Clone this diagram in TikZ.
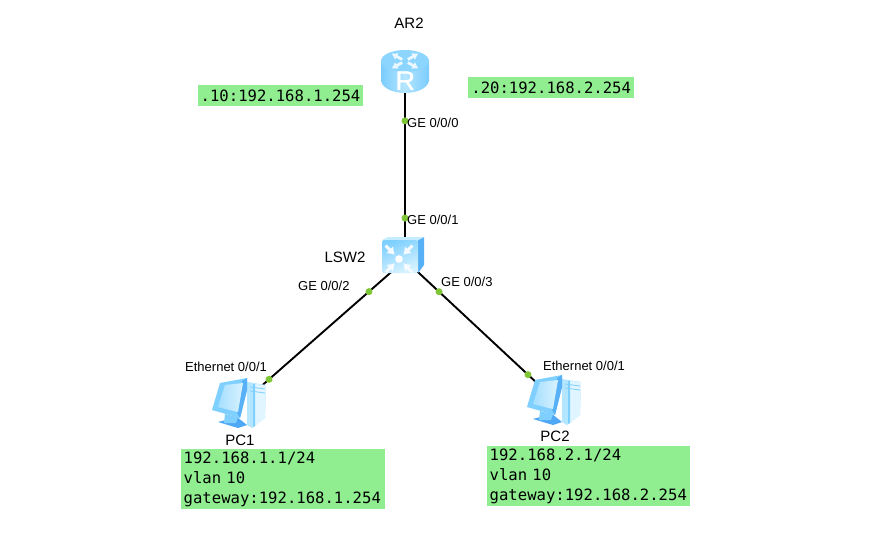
\documentclass[tikz,border=0pt]{standalone}
\usepackage{fontspec}
\setmainfont{Liberation Sans}
\newfontfamily\monof{DejaVu Sans Mono}
\usetikzlibrary{arrows.meta}
\definecolor{boxg}{HTML}{90EE90}
\definecolor{dotg}{HTML}{7FC636}
\definecolor{icA}{HTML}{7FD0FF}
\definecolor{icB}{HTML}{B5E6FF}
\definecolor{icC}{HTML}{D8F3FF}
\definecolor{icD}{HTML}{4FA8F5}
\tikzset{
  x=1pt,y=-1pt,
  lbl/.style={font=\fontsize{13}{15}\selectfont,text=black,inner sep=0pt},
  name lbl/.style={font=\fontsize{15}{17}\selectfont,text=black,inner sep=0pt},
  ipbox/.style={fill=boxg,anchor=north west,inner xsep=2.5pt,inner ysep=0pt,align=left,
    font=\monof\fontsize{15.6}{20}\selectfont,text=black},
  link/.style={draw=black,line width=1.9pt},
  pdot/.style={circle,fill=dotg,inner sep=0pt,minimum size=7pt},
  anchorpt/.style={inner sep=0pt,minimum size=0pt},
  pics/routericon/.style={code={
    \shade[left color=icA!90!icD,right color=icA!90!icD,middle color=icB] (-24,-11) -- (-24,9) .. controls (-20,25) and (20,25) .. (24,9) -- (24,-11) -- cycle;
    \fill[icA!90!white] (0,-11) ellipse[x radius=24,y radius=11];
    \foreach \a in {45,135,225,315}{
      \begin{scope}[shift={(0,-11)},yscale=.55,rotate=\a]
        \draw[white!85!icA,line width=2.8pt,-{Latex[length=6pt,width=8pt]}] (4,0) -- (19,0);
      \end{scope}}
    \node[font=\fontsize{27}{27}\selectfont,text=white,inner sep=0pt] (-rA) at (0,9) {R};
    \node[font=\fontsize{27}{27}\selectfont,text=white,inner sep=0pt] (-rB) at (.5,9) {R};
  }},
  pics/switchicon/.style={code={
    \fill[icD!80!icA] (15,-15) -- (21,-18) -- (21,10) -- (15,18) -- cycle;
    \fill[icC!80!icA] (-21,-15) -- (-15,-18) -- (21,-18) -- (15,-15) -- cycle;
    \shade[left color=icA,right color=icC,shading angle=20,rounded corners=1.5pt] (-21,-15) rectangle (15,18);
    \foreach \a in {45,135,225,315}{
      \begin{scope}[shift={(-4,4)},rotate=\a]
        \draw[white!92!icA,line width=3pt,-{Latex[length=7pt,width=10pt]}] (19,0) -- (6,0);
      \end{scope}}
    \fill[white] (-4,4) circle[radius=3.8];
  }},
  pics/pcicon/.style={code={
    % tower
    \fill[icB] (8,-21) -- (27,-18) -- (26,15) -- (13,25) -- (8,22) -- cycle;
    \fill[icC!80!white] (16,-19) -- (27,-18) -- (26,15) -- (16,23) -- cycle;
    \fill[icA] (14,-19) -- (16,-19) -- (16,23) -- (14,24) -- cycle;
    \draw[icA,line width=.8pt] (11,-16) -- (26,-14) (11,-12) -- (26,-10);
    % stand and base
    \fill[icD] (-21,19) -- (-2,14) -- (8,22) -- (-1,25) -- cycle;
    \fill[icA] (-14,11) -- (-1,14) -- (-3,20) -- (-15,20) -- cycle;
    % monitor
    \fill[icA] (8,-25) -- (-19,-20) -- (-27,7) -- (1,15) -- (8,-13) -- cycle;
    \fill[icD!80!icA] (8,-25) -- (3,-22) -- (-2,10) -- (1,15) -- (8,-13) -- cycle;
    \shade[left color=icA!70!white,right color=icC] (-14,-18) -- (4,-20) -- (-1,9) -- (-21,4) -- cycle;
  }}
}
\begin{document}
\begin{tikzpicture}
\useasboundingbox[fill=white] (0,0) rectangle (872,559);
% named anchors of the devices
\node[anchorpt] (ar) at (405,72) {};
\node[anchorpt] (sw) at (405,260) {};
\node[anchorpt] (pca) at (258,389) {};
\node[anchorpt] (pcb) at (553,398) {};
% connectors
\draw[link] (ar.center) -- node[pos=.26,pdot] (d1) {} node[pos=.777,pdot] (d2) {} (sw.center);
\draw[link] (sw.center) -- node[pos=.245,pdot] (d3) {} node[pos=.925,pdot] (d4) {} (pca.center);
\draw[link] (sw.center) -- node[pos=.23,pdot] (d5) {} node[pos=.831,pdot] (d6) {} (pcb.center);
% icons
\pic (icsw) at (403,255) {switchicon};
\pic (icar) at (405,72) {routericon};
\pic (icpa) at (239,403) {pcicon};
\pic (icpb) at (554,400) {pcicon};
% device names
\node[name lbl] (n1) at (409,23) {AR2};
\node[name lbl] (n2) at (345,257) {LSW2};
\node[name lbl] (n3) at (240,440) {PC1};
\node[name lbl] (n4) at (555,436) {PC2};
% port labels
\node[lbl,anchor=west] (p1) at (407,123) {GE 0/0/0};
\node[lbl,anchor=west] (p2) at (407,220) {GE 0/0/1};
\node[lbl,anchor=west] (p3) at (298,286) {GE 0/0/2};
\node[lbl,anchor=west] (p4) at (441,282) {GE 0/0/3};
\node[lbl,anchor=west] (p5) at (185,367) {Ethernet 0/0/1};
\node[lbl,anchor=west] (p6) at (543,366) {Ethernet 0/0/1};
% address boxes
\node[ipbox,minimum width=163pt,minimum height=21pt] (b1) at (198,85) {.10:192.168.1.254};
\node[ipbox,minimum width=166pt,minimum height=21pt] (b2) at (468,77) {.20:192.168.2.254};
\node[ipbox,minimum height=60pt,text width=199pt] (b3) at (181,449) {192.168.1.1/24\\vlan 10\\gateway:192.168.1.254};
\node[ipbox,minimum height=60pt,text width=198pt] (b4) at (487,446) {192.168.2.1/24\\vlan 10\\gateway:192.168.2.254};
\end{tikzpicture}
\end{document}
